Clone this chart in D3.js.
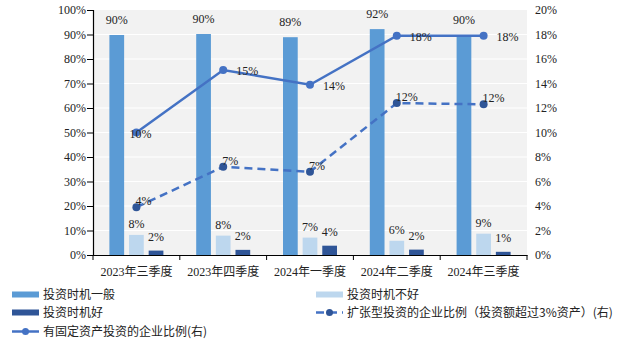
<!DOCTYPE html>
<html>
<head>
<meta charset="utf-8">
<script src="https://cdn.jsdelivr.net/npm/d3@7"></script>
<style>
  html, body { margin: 0; padding: 0; background: #fff; }
  svg { display: block; }
</style>
</head>
<body>
<svg id="chart" width="623" height="345"></svg>
<script>
// Quarterly survey of investment sentiment and investment activity
const categories = ["2023年三季度", "2023年四季度", "2024年一季度", "2024年二季度", "2024年三季度"];
const barSeriesNames = ["投资时机一般", "投资时机不好", "投资时机好"];
const neutralShare = [89.8, 90.2, 88.9, 92.2, 89.6];   // 投资时机一般 (%)
const badShare     = [8.2, 7.9, 7.1, 5.8, 8.7];        // 投资时机不好 (%)
const goodShare    = [1.8, 2.1, 3.8, 2.2, 1.3];        // 投资时机好 (%)
const fixedInvestShare  = [10.0, 15.1, 13.9, 17.9, 17.9]; // 有固定资产投资的企业比例 (右轴, %)
const expansionShare    = [3.9, 7.2, 6.8, 12.4, 12.3];    // 扩张型投资的企业比例 (右轴, %)
const leftTicks  = [0, 10, 20, 30, 40, 50, 60, 70, 80, 90, 100];
const rightTicks = [0, 2, 4, 6, 8, 10, 12, 14, 16, 18, 20];
const barLabels   = [["90%", "90%", "89%", "92%", "90%"], ["8%", "8%", "7%", "6%", "9%"], ["2%", "2%", "4%", "2%", "1%"]];
const fixedLabels = ["10%", "15%", "14%", "18%", "18%"];
const expLabels   = ["4%", "7%", "7%", "12%", "12%"];

const barValues = [neutralShare, badShare, goodShare];
const barColors = ["#5b9bd5", "#bdd7ee", "#2f5597"];
const lineColor = "#4472c4";
const dotDark = "#2f5597";
const serif = "'Liberation Serif', 'Times New Roman', 'Noto Sans CJK SC', serif";
const sans = "'Noto Sans CJK SC', 'Noto Sans', sans-serif";

const svg = d3.select("#chart");
const plot = { left: 93, right: 527, top: 10, bottom: 255 };

const x = d3.scaleBand().domain(categories).range([plot.left, plot.right]).paddingInner(0).paddingOuter(0);
const xSub = d3.scaleBand().domain(barSeriesNames).range([-27, 27]).paddingInner(0.25);
const yL = d3.scaleLinear().domain([0, 100]).range([plot.bottom, plot.top]);
const yR = d3.scaleLinear().domain([0, 20]).range([plot.bottom, plot.top]);

// plot background and horizontal gridlines
svg.append("rect")
  .attr("x", plot.left).attr("y", plot.top)
  .attr("width", plot.right - plot.left).attr("height", plot.bottom - plot.top)
  .attr("fill", "#f2f2f2");
svg.append("g").selectAll("line").data(leftTicks.filter(t => t > 0 && t < 100)).join("line")
  .attr("x1", plot.left).attr("x2", plot.right)
  .attr("y1", d => yL(d)).attr("y2", d => yL(d))
  .attr("stroke", "#fff").attr("stroke-width", 1.2);

// bars
barValues.forEach((vals, si) => {
  svg.append("g").selectAll("rect").data(vals).join("rect")
    .attr("x", (d, i) => x(categories[i]) + x.bandwidth() / 2 + xSub(barSeriesNames[si]))
    .attr("y", d => yL(d))
    .attr("width", xSub.bandwidth())
    .attr("height", d => plot.bottom - yL(d))
    .attr("fill", barColors[si]);
});

// left axis
const axL = svg.append("g").attr("transform", `translate(${plot.left},0)`)
  .call(d3.axisLeft(yL).tickValues(leftTicks).tickFormat(d => d + "%").tickSize(6).tickPadding(1));
axL.select(".domain").attr("stroke", "#000").attr("stroke-width", 1.2);
axL.selectAll(".tick line").attr("stroke", "#000");
axL.selectAll("text").attr("font-family", serif).attr("font-size", 12).attr("fill", "#222");

// right axis (labels only)
const axR = svg.append("g").attr("transform", `translate(${plot.right},0)`)
  .call(d3.axisRight(yR).tickValues(rightTicks).tickFormat(d => d + "%").tickSize(0).tickPadding(8));
axR.select(".domain").remove();
axR.selectAll("text").attr("font-family", serif).attr("font-size", 12).attr("fill", "#222");

// bottom axis with ticks at category boundaries
const axB = svg.append("g").attr("transform", `translate(0,${plot.bottom})`)
  .call(d3.axisBottom(x).tickSize(0).tickPadding(12));
axB.select(".domain").attr("stroke", "#000").attr("stroke-width", 1.2);
axB.selectAll("text").attr("font-family", serif).attr("font-size", 12).attr("fill", "#222");
const bounds = categories.map(c => x(c)).concat([plot.right]);
axB.append("g").selectAll("line").data(bounds).join("line")
  .attr("x1", d => d).attr("x2", d => d).attr("y1", 0).attr("y2", 5)
  .attr("stroke", "#000").attr("stroke-width", 1);

// bar value labels
const barLabelOffset = [11, 7, 10];
barValues.forEach((vals, si) => {
  svg.append("g").selectAll("text").data(vals).join("text")
    .attr("x", (d, i) => x(categories[i]) + x.bandwidth() / 2 + xSub(barSeriesNames[si]) + xSub.bandwidth() / 2)
    .attr("y", d => yL(d) - barLabelOffset[si])
    .attr("text-anchor", "middle")
    .attr("font-family", serif).attr("font-size", 12).attr("fill", "#222")
    .text((d, i) => barLabels[si][i]);
});

// right-axis lines
const cx = c => x(c) + x.bandwidth() / 2;
const lineGen = d3.line().x((d, i) => cx(categories[i])).y(d => yR(d));

svg.append("path").datum(expansionShare)
  .attr("d", lineGen).attr("fill", "none")
  .attr("stroke", lineColor).attr("stroke-width", 2.5).attr("stroke-dasharray", "8,5");
svg.append("g").selectAll("circle").data(expansionShare).join("circle")
  .attr("cx", (d, i) => cx(categories[i])).attr("cy", d => yR(d)).attr("r", 4)
  .attr("fill", dotDark);

svg.append("path").datum(fixedInvestShare)
  .attr("d", lineGen).attr("fill", "none")
  .attr("stroke", lineColor).attr("stroke-width", 2.5);
svg.append("g").selectAll("circle").data(fixedInvestShare).join("circle")
  .attr("cx", (d, i) => cx(categories[i])).attr("cy", d => yR(d)).attr("r", 4)
  .attr("fill", lineColor);

// line value labels
svg.append("g").selectAll("text").data(fixedInvestShare).join("text")
  .attr("x", (d, i) => cx(categories[i]) + (i === 0 ? -7 : 13))
  .attr("y", d => yR(d) + 5)
  .attr("font-family", serif).attr("font-size", 12).attr("fill", "#222")
  .text((d, i) => fixedLabels[i]);
svg.append("g").selectAll("text").data(expansionShare).join("text")
  .attr("x", (d, i) => cx(categories[i]) - 1)
  .attr("y", d => yR(d) - 2)
  .attr("font-family", serif).attr("font-size", 12).attr("fill", "#222")
  .text((d, i) => expLabels[i]);

// legend
const legendItems = [
  { name: "投资时机一般", type: "bar", color: barColors[0], col: 0, row: 0 },
  { name: "投资时机不好", type: "bar", color: barColors[1], col: 1, row: 0 },
  { name: "投资时机好", type: "bar", color: barColors[2], col: 0, row: 1 },
  { name: "扩张型投资的企业比例（投资额超过3%资产）(右)", type: "dash", color: lineColor, col: 1, row: 1 },
  { name: "有固定资产投资的企业比例(右)", type: "line", color: lineColor, col: 0, row: 2 }
];
const colX = [12, 316];
const rowY = [294.5, 312.5, 331.5];
const lg = svg.append("g").selectAll("g").data(legendItems).join("g")
  .attr("transform", d => `translate(${colX[d.col]},${rowY[d.row]})`);
lg.each(function (d) {
  const g = d3.select(this);
  if (d.type === "bar") {
    g.append("rect").attr("x", 0).attr("y", -3).attr("width", 27).attr("height", 6).attr("fill", d.color);
  } else {
    g.append("line").attr("x1", 0).attr("x2", 27).attr("y1", 0).attr("y2", 0)
      .attr("stroke", d.color).attr("stroke-width", 2.5)
      .attr("stroke-dasharray", d.type === "dash" ? "8,5" : null);
    g.append("circle").attr("cx", 13.5).attr("cy", 0).attr("r", 3.5)
      .attr("fill", d.type === "dash" ? dotDark : d.color);
  }
  g.append("text").attr("x", 31).attr("y", 4.5)
    .attr("font-family", sans).attr("font-size", 12).attr("fill", "#222")
    .text(d.name);
});
</script>
</body>
</html>
